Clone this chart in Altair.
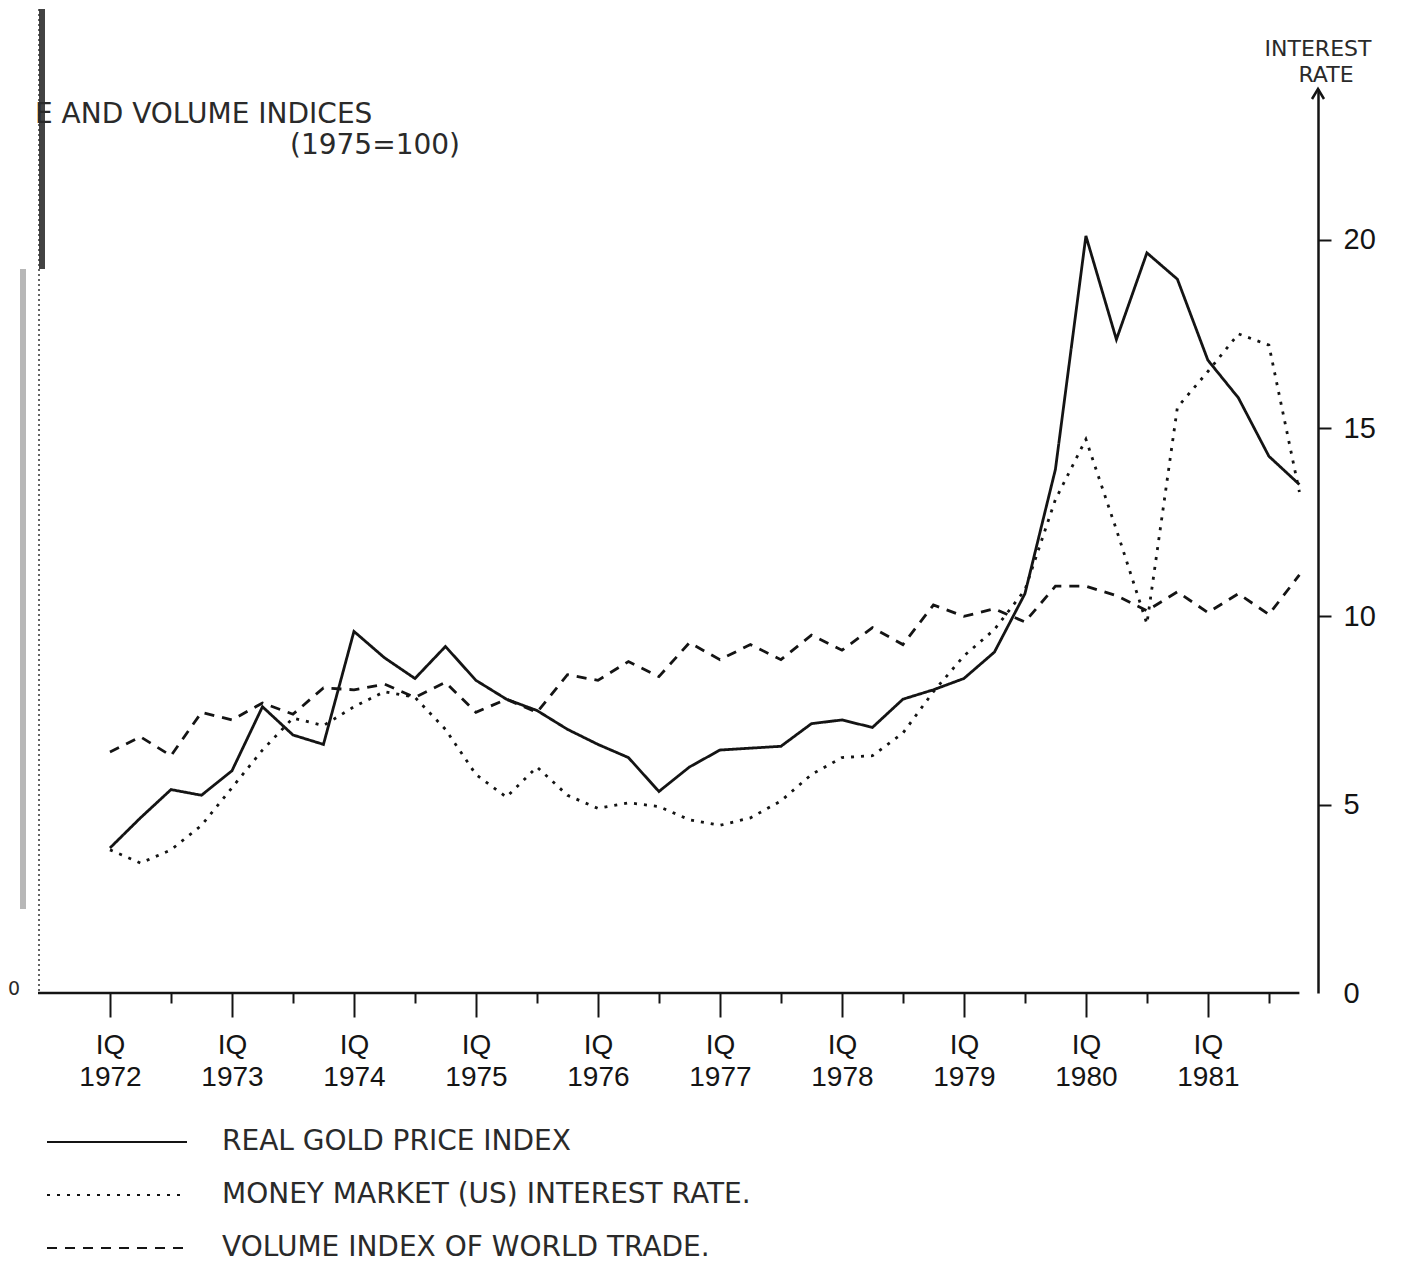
import json
import altair as alt
import pandas as pd

# ---------------- data ----------------
# quarterly, 1972 Q1 ... 1981 Q4 ; values in units of the right (interest-rate) scale
years = ["1972", "1973", "1974", "1975", "1976", "1977", "1978", "1979", "1980", "1981"]

gold = [3.85, 4.65, 5.4, 5.25,
        5.9, 7.6, 6.85, 6.6,
        9.6, 8.9, 8.35, 9.2,
        8.3, 7.8, 7.5, 7.0,
        6.6, 6.25, 5.35, 6.0,
        6.45, 6.5, 6.55, 7.15,
        7.25, 7.05, 7.8, 8.05,
        8.35, 9.05, 10.6, 13.9,
        20.1, 17.35, 19.65, 18.95,
        16.8, 15.8, 14.25, 13.5]

interest = [3.8, 3.45, 3.8, 4.45,
            5.45, 6.45, 7.3, 7.1,
            7.6, 8.0, 7.85, 7.0,
            5.8, 5.2, 6.0, 5.25,
            4.9, 5.05, 4.95, 4.6,
            4.45, 4.65, 5.1, 5.8,
            6.25, 6.3, 6.9, 8.0,
            8.95, 9.65, 10.7, 13.1,
            14.7, 12.3, 9.8, 15.55,
            16.5, 17.5, 17.2, 13.3]

trade = [6.4, 6.8, 6.3, 7.45,
         7.25, 7.7, 7.4, 8.1,
         8.05, 8.2, 7.85, 8.25,
         7.45, 7.8, 7.45, 8.45,
         8.3, 8.8, 8.4, 9.3,
         8.85, 9.25, 8.85, 9.5,
         9.1, 9.7, 9.25, 10.3,
         10.0, 10.2, 9.85, 10.8,
         10.8, 10.55, 10.15, 10.65,
         10.1, 10.6, 10.05, 11.1]

series_names = ["REAL GOLD PRICE INDEX",
                "MONEY MARKET (US) INTEREST RATE.",
                "VOLUME INDEX OF WORLD TRADE."]
rate_ticks = [0, 5, 10, 15, 20]

rows = []
for name, vals in zip(series_names, [gold, interest, trade]):
    for i, v in enumerate(vals):
        rows.append({"q": i, "value": v, "series": name})
df = pd.DataFrame(rows)

# ---------------- geometry ----------------
W, H = 1280, 904
XMIN, XMAX = -2.36, 39.61
YMAX = 24
FONT = "DejaVu Sans"
INK = "#141414"

xscale = alt.Scale(domain=[XMIN, XMAX], nice=False, zero=False)
yscale = alt.Scale(domain=[0, YMAX], nice=False, zero=True)

label_expr = ("datum.value % 4 === 0 ? ['IQ', " + json.dumps(years) +
              "[datum.value / 4]] : ''")

x_axis = alt.Axis(
    values=list(range(40)), domain=False, grid=False,
    tickColor=INK, tickWidth=2,
    tickSize={"condition": {"test": "datum.value % 4 === 0", "value": 24}, "value": 10},
    labelExpr=label_expr, labelFont="Liberation Sans", labelFontSize=28,
    labelColor=INK, labelPadding=14, labelLineHeight=32, labelAngle=0,
    labelFlush=False, labelOverlap=False, title=None,
)

y_axis = alt.Axis(
    orient="right", values=rate_ticks, grid=False,
    domainColor=INK, domainWidth=2.5,
    tickColor={"condition": {"test": "datum.value === 0", "value": "transparent"}, "value": INK},
    tickWidth=2, tickSize=13,
    labelFont="Liberation Sans", labelFontSize=29, labelColor=INK, labelPadding=12,
    title=None,
)

# legend symbol: a long horizontal stroke drawn as a custom path
SYM = 35  # layout box of the symbol (px)
lines = alt.Chart(df).mark_line(color=INK, strokeWidth=2.8).encode(
    x=alt.X("q:Q", scale=xscale, axis=x_axis),
    y=alt.Y("value:Q", scale=yscale, axis=y_axis),
    strokeDash=alt.StrokeDash(
        "series:N",
        scale=alt.Scale(domain=series_names, range=[[1, 0], [3, 7], [10, 8]]),
        legend=alt.Legend(
            orient="none", legendX=60, legendY=1034, title=None,
            symbolType="M-4,0H4", symbolSize=SYM * SYM, symbolStrokeWidth=2.2,
            symbolStrokeColor=INK, symbolFillColor="transparent",
            labelFont=FONT, labelFontSize=28,
            labelColor="#2a2a2a", labelOffset=86, rowPadding=20, padding=0,
            labelLimit=1000,
        ),
    ),
    detail="series:N",
)

one = alt.Data(values=[{}])

baseline = alt.Chart(one).mark_rule(color=INK, strokeWidth=2.5).encode(
    x=alt.datum(XMIN, scale=xscale), x2=alt.datum(39),
    y=alt.datum(0, scale=yscale)
)

left_axis = alt.Chart(one).mark_rule(color="#333", strokeWidth=1.5, strokeDash=[2, 3]).encode(
    x=alt.value(1), y=alt.value(-85), y2=alt.value(H)
)
shadow_top = alt.Chart(one).mark_rule(color="#222", strokeWidth=6, opacity=0.85).encode(
    x=alt.value(4), y=alt.value(-80), y2=alt.value(180)
)
shadow_low = alt.Chart(one).mark_rule(color="#999", strokeWidth=6, opacity=0.7).encode(
    x=alt.value(-15), y=alt.value(180), y2=alt.value(820)
)

arrow = alt.Chart(one).mark_point(
    shape="M-0.6,1L0,0L0.6,1", size=400, filled=False, color=INK, strokeWidth=2.5, opacity=1
).encode(x=alt.datum(XMAX, scale=xscale), y=alt.datum(YMAX, scale=yscale))


def label(txt, x, y, size, align="left", font=FONT):
    return alt.Chart(one).mark_text(
        text=txt, align=align, baseline="middle", font=font, fontSize=size, color="#2a2a2a"
    ).encode(x=alt.value(x), y=alt.value(y))


texts = [
    label("E AND VOLUME INDICES", -3, 26, 28),
    label("(1975=100)", 252, 57, 28),
    label("INTEREST", 1280, -40, 22, align="center"),
    label("RATE", 1288, -14, 22, align="center"),
    label("0", -24, H - 4, 19, align="center"),
]

chart = alt.layer(
    shadow_top, shadow_low, left_axis, baseline, lines, arrow, *texts
).properties(
    width=W, height=H,
    background="white",
    autosize=alt.AutoSizeParams(type="none"),
    padding={"left": 30, "top": 81, "right": 77, "bottom": 276},
).configure_view(strokeWidth=0, stroke="transparent").configure_axis(grid=False)

chart.save("out.html", embed_options={"renderer": "svg", "actions": False})
